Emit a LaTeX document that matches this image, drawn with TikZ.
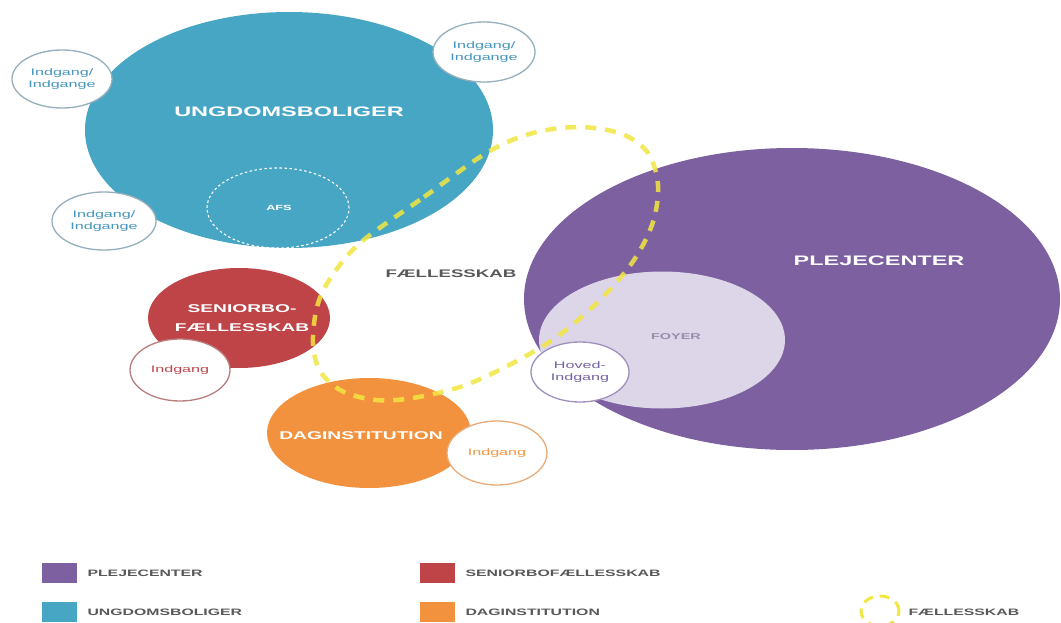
\documentclass[tikz,border=0pt]{standalone}
\usepackage{fontspec}
\setmainfont{Liberation Sans}[FakeStretch=1.7]
\usetikzlibrary{shapes.geometric}

\definecolor{ungblue}{RGB}{72,166,197}
\definecolor{plejpurple}{RGB}{124,96,160}
\definecolor{foyerlilac}{RGB}{220,214,232}
\definecolor{seniorred}{RGB}{191,68,72}
\definecolor{dagorange}{RGB}{242,146,62}
\definecolor{faelyellow}{RGB}{242,230,64}
\definecolor{labelgray}{RGB}{88,88,88}
\definecolor{doorblue}{RGB}{70,150,190}
\definecolor{doorblueedge}{RGB}{150,175,188}
\definecolor{doorpurple}{RGB}{118,98,160}
\definecolor{doorred}{RGB}{190,72,78}
\definecolor{doorrededge}{RGB}{185,125,125}
\definecolor{doororange}{RGB}{240,150,70}
\definecolor{doororangeedge}{RGB}{232,172,120}
\definecolor{foyertext}{RGB}{150,140,172}

\tikzset{
  zone/.style={ellipse, inner sep=0pt, draw=none},
  door/.style={ellipse, inner sep=0pt, fill=white, line width=1.3pt,
    align=center, font=\fontsize{9.5}{12.5}\selectfont},
  biglabel/.style={text=white, font=\bfseries\fontsize{13.8}{16}\selectfont},
  midlabel/.style={text=white, align=center, font=\bfseries\fontsize{11.3}{19}\selectfont},
  commonlabel/.style={text=labelgray, font=\bfseries\fontsize{11}{13}\selectfont},
  swatch/.style={rectangle, inner sep=0pt, minimum width=35pt, minimum height=20pt},
  legendtext/.style={anchor=west, text=labelgray, font=\bfseries\fontsize{9.3}{11}\selectfont},
  commonloop/.style={draw=faelyellow, draw opacity=0.85, line width=4.5pt,
    dash pattern=on 11pt off 9pt},
}

\begin{document}
\begin{tikzpicture}[x=1pt,y=-1pt]
\useasboundingbox[fill=white] (0,0) rectangle (1061,623);

% --- main building volumes ---
\node[zone, fill=ungblue, minimum width=408pt, minimum height=236pt] (ung) at (289,130) {};
\node[zone, draw=white, line width=1.1pt, dash pattern=on 2.5pt off 2.5pt,
      minimum width=142pt, minimum height=80pt] (afs) at (278,208) {};
\node[text=white, font=\bfseries\fontsize{7.5}{9}\selectfont] (afsl) at (279,208) {AFS};
\node[biglabel] (ungl) at (289,112) {UNGDOMSBOLIGER};

\node[zone, fill=plejpurple, minimum width=536pt, minimum height=302pt] (plej) at (792,299) {};
\node[zone, fill=foyerlilac, minimum width=246pt, minimum height=137pt] (foyer) at (662,340) {};
\node[biglabel] (plejl) at (879,261) {PLEJECENTER};
\node[text=foyertext, font=\bfseries\fontsize{8.5}{10}\selectfont] (foyerl) at (676,337) {FOYER};

\node[zone, fill=seniorred, minimum width=182pt, minimum height=100pt] (senior) at (239,318) {};
\node[midlabel] (seniorl) at (242,318) {SENIORBO-\\FÆLLESSKAB};

\node[zone, fill=dagorange, minimum width=204pt, minimum height=110pt] (dag) at (369,433) {};
\node[midlabel] (dagl) at (361,436) {DAGINSTITUTION};

\node[commonlabel] (faell) at (451,274) {FÆLLESSKAB};

% --- shared "fællesskab" loop ---
\draw[commonloop] plot[smooth cycle, tension=0.55] coordinates {
  (360,243) (424,197) (488,152) (533,133) (580,127) (622,134) (648,153)
  (658,185) (653,222) (634,260) (601,299) (558,336) (513,363) (463,386)
  (413,398) (376,400) (342,391) (320,371) (313,343) (317,307) (330,279)};

% --- entrances ---
\node[door, draw=doorblueedge, text=doorblue, minimum width=100pt, minimum height=58pt] (d1) at (62,79) {Indgang/\\Indgange};
\node[door, draw=doorblueedge, text=doorblue, minimum width=102pt, minimum height=60pt] (d2) at (484,52) {Indgang/\\Indgange};
\node[door, draw=doorblueedge, text=doorblue, minimum width=104pt, minimum height=58pt] (d3) at (104,221) {Indgang/\\Indgange};
\node[door, draw=doorrededge, text=doorred, minimum width=100pt, minimum height=62pt] (d4) at (180,370) {Indgang};
\node[door, draw=doororangeedge, text=doororange, minimum width=100pt, minimum height=64pt] (d5) at (497,453) {Indgang};
\node[door, draw=doorpurple!70, text=doorpurple, minimum width=98pt, minimum height=60pt] (d6) at (580,372) {Hoved-\\Indgang};

% --- legend ---
\node[swatch, fill=plejpurple] (s1) at (59.5,573) {};
\node[legendtext] (t1) at (84,573) {PLEJECENTER};
\node[swatch, fill=ungblue] (s2) at (59.5,612) {};
\node[legendtext] (t2) at (84,612) {UNGDOMSBOLIGER};
\node[swatch, fill=seniorred] (s3) at (437.5,573) {};
\node[legendtext] (t3) at (462,573) {SENIORBOFÆLLESSKAB};
\node[swatch, fill=dagorange] (s4) at (437.5,612) {};
\node[legendtext] (t4) at (462,612) {DAGINSTITUTION};
\node[zone, draw=faelyellow, line width=3pt, dash pattern=on 10pt off 7pt,
      minimum width=38pt, minimum height=30pt] (s5) at (880,611) {};
\node[legendtext] (t5) at (905,612) {FÆLLESSKAB};
\end{tikzpicture}
\end{document}
